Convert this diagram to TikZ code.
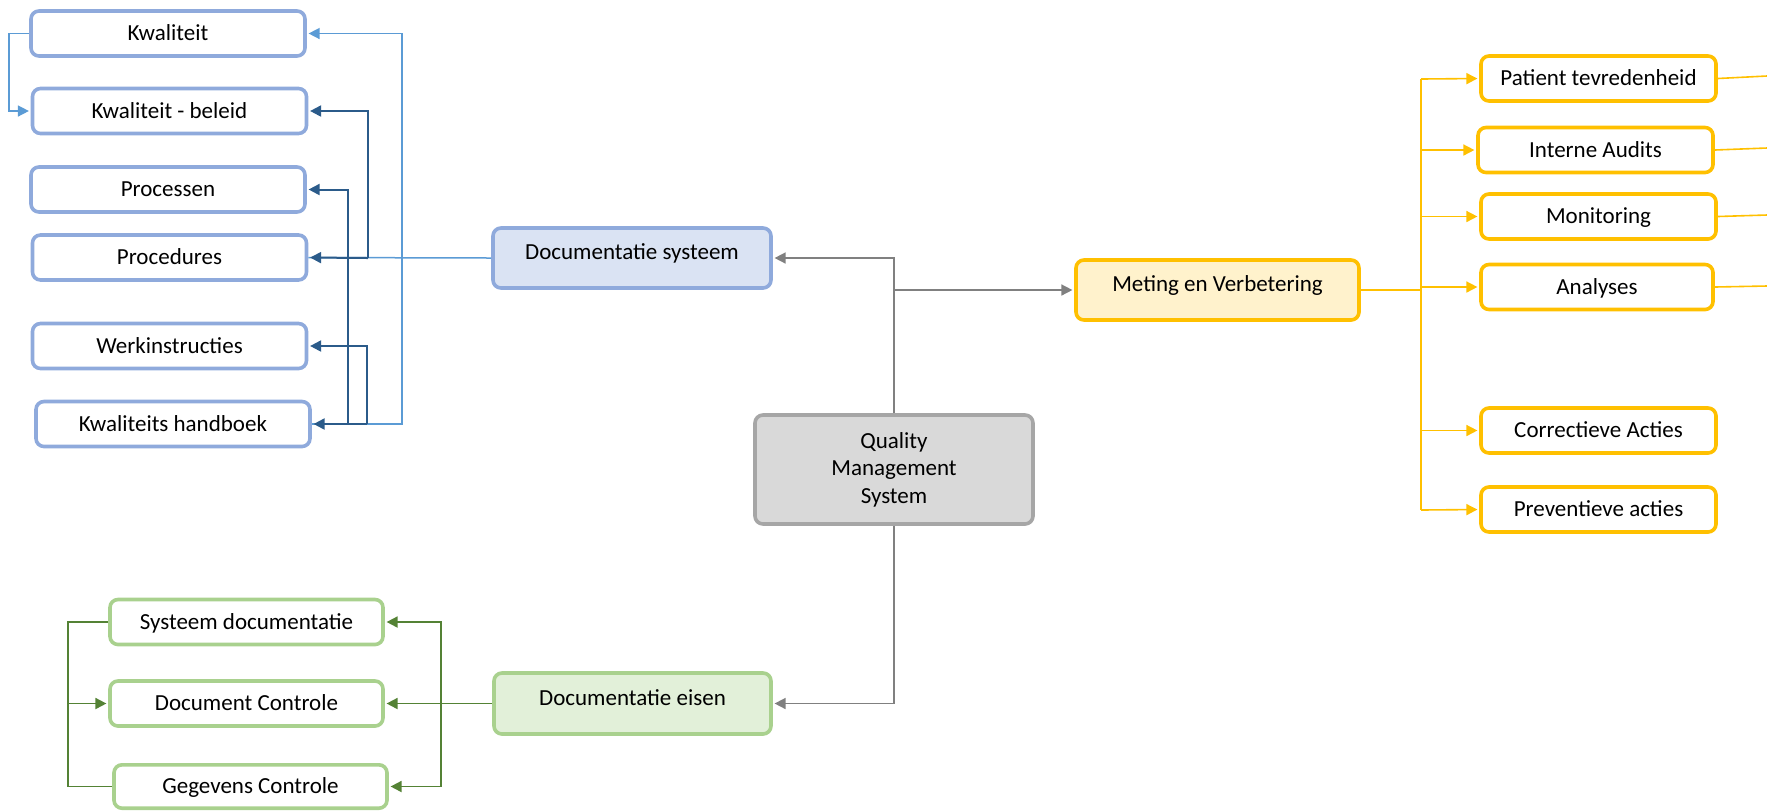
\documentclass[tikz,border=0pt]{standalone}
\usepackage{fontspec}
\setmainfont{Carlito}
\usetikzlibrary{arrows.meta}
\definecolor{blueB}{HTML}{8FAADC}
\definecolor{blueF}{HTML}{DAE3F3}
\definecolor{lblue}{HTML}{5B9BD5}
\definecolor{dblue}{HTML}{2B5B8A}
\definecolor{greenB}{HTML}{A9D18E}
\definecolor{greenF}{HTML}{E2F0D9}
\definecolor{dgreen}{HTML}{548235}
\definecolor{yelB}{HTML}{FFC000}
\definecolor{yelF}{HTML}{FFF2CC}
\definecolor{grayB}{HTML}{A6A6A6}
\definecolor{grayF}{HTML}{D9D9D9}
\definecolor{grayL}{HTML}{808080}
\begin{document}
\begin{tikzpicture}[x=0.5pt,y=-0.5pt,
  basebox/.style={draw, line width=1.8pt, rounded corners=4pt, inner sep=0pt, align=center,
    font=\fontsize{11.5}{13.75}\selectfont},
  box/.style={basebox, text height=8pt, text depth=0.6pt},
  raised/.style={text height=8pt, text depth=6.1pt},
  bbox/.style={box, draw=blueB, fill=white, minimum width=137pt, minimum height=22.5pt},
  gbox/.style={box, draw=greenB, fill=white, minimum width=136.5pt, minimum height=22.5pt},
  ybox/.style={box, draw=yelB, fill=white, minimum width=117.5pt, minimum height=22.5pt},
  tip/.style={-{Triangle[length=5.5pt,width=5.5pt]}, shorten >=0.9pt},
  lbl/.style={draw=lblue, line width=0.75pt},
  dbl/.style={draw=dblue, line width=1pt},
  gl/.style={draw=dgreen, line width=0.9pt},
  yl/.style={draw=yelB, line width=0.8pt},
  grl/.style={draw=grayL, line width=0.8pt}
]
\useasboundingbox (0,0) rectangle (1767,811);
% blue column
\node[bbox] (kw) at (168,33.5) {Kwaliteit};
\node[bbox] (kwb) at (169.5,111) {Kwaliteit - beleid};
\node[bbox] (proc) at (168,189.5) {Processen};
\node[bbox] (pced) at (169.5,257.5) {Procedures};
\node[bbox] (werk) at (169.5,346) {Werkinstructies};
\node[bbox] (hand) at (173,424) {Kwaliteits handboek};
% main
\node[box, raised, draw=blueB, fill=blueF, minimum width=139pt, minimum height=30pt] (ds) at (632,258) {Documentatie systeem};
\node[basebox, draw=grayB, fill=grayF, minimum width=139pt, minimum height=54.5pt] (qms) at (894,469.5) {Quality\\Management\\System};
\node[box, raised, draw=yelB, fill=yelF, minimum width=141.5pt, minimum height=30pt] (met) at (1217.5,290) {Meting en Verbetering};
\node[box, raised, draw=greenB, fill=greenF, minimum width=138.5pt, minimum height=30.5pt] (de) at (632.5,703.5) {Documentatie eisen};
% green
\node[gbox] (sd) at (246.5,622) {Systeem documentatie};
\node[gbox] (dc) at (246.5,703.5) {Document Controle};
\node[gbox, minimum height=21.7pt] (gc) at (250.5,786.5) {Gegevens Controle};
% yellow
\node[ybox] (pt) at (1598.5,78.5) {Patient tevredenheid};
\node[ybox] (ia) at (1595.5,150) {Interne Audits};
\node[ybox] (mon) at (1598.5,216.5) {Monitoring};
\node[ybox, minimum width=116pt] (an) at (1597,287) {Analyses};
\node[ybox] (ca) at (1598.5,430.5) {Correctieve Acties};
\node[ybox] (pa) at (1598.5,509.5) {Preventieve acties};

% gray connectors
\draw[grl,tip] (qms.north) |- (ds.east);
\draw[grl,tip] (qms.north |- met.west) -- (met.west);
\draw[grl,tip] (qms.south) |- (de.east);

% yellow connectors
\coordinate (ytop) at (1421,79);
\coordinate (ybot) at (1421,510);
\draw[yl] (met.east) -- (met.east -| ytop);
\draw[yl] (ytop) -- (ybot);
\draw[yl,tip] (ytop) -- (pt.west);
\draw[yl,tip] (ytop |- ia.west) -- (ia.west);
\draw[yl,tip] (ytop |- mon.west) -- (mon.west);
\draw[yl,tip] (ytop |- an.west) -- (an.west);
\draw[yl,tip] (ytop |- ca.west) -- (ca.west);
\draw[yl,tip] (ybot) -- (pa.west);
\coordinate (ptr) at (1767,76);
\coordinate (iar) at (1767,148);
\coordinate (monr) at (1767,215);
\coordinate (anr) at (1767,286);
\draw[yl] (pt.east) -- (ptr);
\draw[yl] (ia.east) -- (iar);
\draw[yl] (mon.east) -- (monr);
\draw[yl] (an.east) -- (anr);

% blue connectors
\coordinate (lbj) at (402,258);
\coordinate (kl) at (9,33.5);
\draw[lbl] (ds.west) -- (pced.east);
\draw[lbl,tip] (lbj) |- (kw.east);
\draw[lbl] (lbj) |- (hand.east);
\draw[lbl,tip] (kw.west) -- (kl) |- (kwb.west);
\coordinate (db1) at (368,258);
\coordinate (db2) at (348,424);
\coordinate (db3) at (367,424);
\draw[dbl,tip] (db1) |- (kwb.east);
\draw[dbl,tip] (db1) -- (pced.east);
\draw[dbl,tip] (db2) |- (proc.east);
\draw[dbl,tip] (db3) |- (werk.east);
\draw[dbl] (db3) -- (db2);
\draw[dbl,tip] (db2) -- (hand.east);

% green connectors
\coordinate (gj) at (441,703.5);
\coordinate (glft) at (68,622);
\draw[gl] (de.west) -- (gj);
\draw[gl,tip] (gj) |- (sd.east);
\draw[gl,tip] (gj) -- (dc.east);
\draw[gl,tip] (gj) |- (gc.east);
\draw[gl] (sd.west) -- (glft) |- (gc.west);
\draw[gl,tip] (glft |- dc.west) -- (dc.west);
\end{tikzpicture}
\end{document}
